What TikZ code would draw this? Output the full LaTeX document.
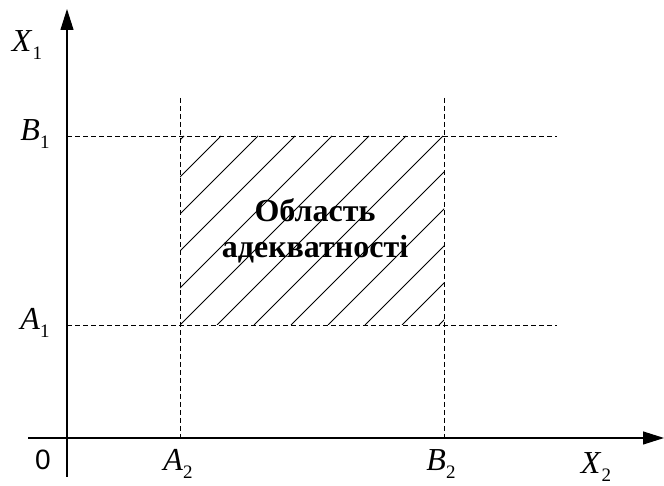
\documentclass[tikz,border=0pt]{standalone}
\usepackage{fontspec}
\setmainfont{Liberation Serif}
\newfontfamily\zerofont{Liberation Sans}
\usetikzlibrary{arrows.meta}
\newcommand{\axlbl}[2]{\textit{#1}\raisebox{-8pt}{\fontsize{19}{19}\selectfont #2}}

\begin{document}
\begin{tikzpicture}[x=1pt,y=1pt,
  lbl/.style={font=\fontsize{32}{32}\selectfont,inner sep=0pt},
  bound/.style={dash pattern=on 5pt off 3pt,line width=0.8pt},
  axis/.style={line width=1.1pt,-{Triangle[length=21pt,width=13pt]}}]
\useasboundingbox (0,0) rectangle (664,486);
\coordinate (o) at (67,48);
\coordinate (ybot) at (67,9);
\coordinate (ytop) at (67,477);
\coordinate (xleft) at (28,48);
\coordinate (xright) at (664,48);
\draw[axis] (ybot) -- (ytop);
\draw[axis] (xleft) -- (xright);
\coordinate (a2top) at (180,388);
\coordinate (a2bot) at (180,48);
\coordinate (b2top) at (444,388);
\coordinate (b2bot) at (444,48);
\coordinate (a1l) at (67,161);
\coordinate (a1r) at (557,161);
\coordinate (b1l) at (67,350);
\coordinate (b1r) at (557,350);
\draw[bound] (a2top) -- (a2bot);
\draw[bound] (b2top) -- (b2bot);
\draw[bound] (a1l) -- (a1r);
\draw[bound] (b1l) -- (b1r);
\begin{scope}
\clip (180,161) rectangle (444,350);
\foreach \i in {-6,...,7}
  \draw[line width=0.8pt] (180+37*\i,161) -- (369+37*\i,350);
\end{scope}
\node[font=\fontsize{32}{36}\selectfont\bfseries,align=center] (region) at (315,255) {Область\\адекватності};
\node[lbl] (x1) at (27,441) {\axlbl{X}{1}};
\node[lbl] (b1) at (35,352) {\axlbl{B}{1}};
\node[lbl] (a1) at (35,163) {\axlbl{A}{1}};
\node[font=\fontsize{28}{28}\selectfont\zerofont,inner sep=0pt] (zero) at (43,26) {0};
\node[lbl] (a2) at (178,22) {\axlbl{A}{2}};
\node[lbl] (b2) at (441,22) {\axlbl{B}{2}};
\node[lbl] (x2) at (596,19) {\axlbl{X}{2}};
\end{tikzpicture}
\end{document}
